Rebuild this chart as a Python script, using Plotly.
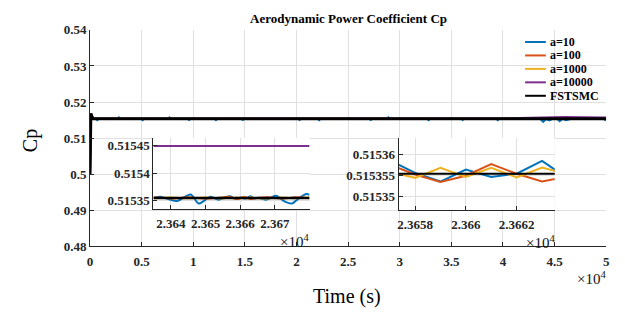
import plotly.graph_objects as go

# ---------------- data ----------------
series_names = ["a=10", "a=100", "a=1000", "a=10000", "FSTSMC"]
series_colors = ["#0072BD", "#D95319", "#EDB120", "#7E2F8E", "#000000"]

# main view (coarse)
t_main = [0, 40, 80, 150, 300, 50000]
cp_common_main = [0.5, 0.5140, 0.5168, 0.5162, 0.5154, 0.515355]

t_main_a10 = [0, 40, 80, 150, 300, 550, 700, 850, 2650, 2800, 2950, 4950, 5100, 5250,
              7550, 7700, 7850, 9450, 9600, 9750, 12050, 12200, 12350, 14650, 14800, 14950,
              20150, 20300, 20450, 22050, 22200, 22350, 27050, 27200, 27350, 28750, 28900, 29050,
              32650, 32800, 32950, 35950, 36100, 36250, 39350, 39500, 39650,
              43600, 43900, 44200, 44500, 44800, 45100, 45500, 45800, 46100, 46650, 47000,
              49750, 49900, 50000]
cp_a10_main = [0.5, 0.5140, 0.5168, 0.5162, 0.5154, 0.515355, 0.51500, 0.515355, 0.515355, 0.51575, 0.515355,
               0.515355, 0.51500, 0.515355, 0.515355, 0.51575, 0.515355, 0.515355, 0.51505, 0.515355,
               0.515355, 0.51500, 0.515355, 0.515355, 0.51505, 0.515355,
               0.515355, 0.51505, 0.515355, 0.515355, 0.51500, 0.515355, 0.515355, 0.51505, 0.515355,
               0.515355, 0.51575, 0.515355, 0.515355, 0.51500, 0.515355, 0.515355, 0.51505, 0.515355,
               0.515355, 0.51500, 0.515355,
               0.515355, 0.51450, 0.515355, 0.51490, 0.515355, 0.51575, 0.51470, 0.515355, 0.51500,
               0.515355, 0.515355, 0.515355, 0.51505, 0.515355]

t_main_a10000 = [0, 40, 80, 150, 300, 40000, 42000, 44000, 46000, 48000, 50000]
cp_a10000_main = [0.5, 0.5140, 0.5168, 0.5162, 0.5154, 0.51545, 0.51565, 0.51580, 0.51585, 0.51580, 0.51575]

# zoomed window (fine)
t_zoom_a10 = [23635, 23637, 23639.4, 23641.7, 23645.7, 23648, 23651.4, 23653.7, 23655.7,
              23657, 23658, 23659, 23660, 23661, 23662, 23663, 23664,
              23665.1, 23667.4, 23670.3, 23672.9, 23674.9, 23677.1, 23679.1, 23680]
cp_a10_zoom = [0.5153549, 0.5153575, 0.5153531, 0.5153497, 0.5153618, 0.5153453, 0.5153575, 0.5153523, 0.5153566,
               0.5153587, 0.5153556, 0.5153535, 0.5153564, 0.5153546, 0.5153554, 0.5153585, 0.5153543,
               0.5153557, 0.5153523, 0.5153592, 0.5153488, 0.5153453, 0.5153557, 0.5153627, 0.5153609]

t_zoom = [23635, 23640, 23645, 23650, 23655, 23657, 23658, 23659, 23660, 23661, 23662, 23663, 23664,
          23668, 23672, 23676, 23680]
cp_a100_zoom = [0.5153565, 0.5153545, 0.5153566, 0.5153543, 0.5153563, 0.5153576, 0.5153552, 0.5153534,
                0.5153549, 0.5153577, 0.5153554, 0.5153535, 0.5153547, 0.5153566, 0.5153542, 0.5153565, 0.5153548]
cp_a1000_zoom = [0.5153548, 0.5153562, 0.5153547, 0.5153563, 0.5153546, 0.5153559, 0.5153544, 0.5153568,
                 0.5153546, 0.5153568, 0.5153545, 0.5153569, 0.5153552, 0.5153546, 0.5153563, 0.5153547, 0.5153562]
cp_a10000_zoom = [0.51545] * len(t_zoom)
cp_fstsmc_zoom = [0.5153554] * len(t_zoom)

# ticks
main_xticks = [0, 5000, 10000, 15000, 20000, 25000, 30000, 35000, 40000, 45000, 50000]
main_xticklabels = ["0", "0.5", "1", "1.5", "2", "2.5", "3", "3.5", "4", "4.5", "5"]
main_yticks = [0.48, 0.49, 0.50, 0.51, 0.52, 0.53, 0.54]
main_yticklabels = ["0.48", "0.49", "0.5", "0.51", "0.52", "0.53", "0.54"]
in1_xticks = [23640, 23650, 23660, 23670]
in1_xticklabels = ["2.364", "2.365", "2.366", "2.367"]
in1_yticks = [0.51535, 0.51540, 0.51545]
in1_yticklabels = ["0.51535", "0.5154", "0.51545"]
in2_xticks = [23658, 23660, 23662]
in2_xticklabels = ["2.3658", "2.366", "2.3662"]
in2_yticks = [0.51535, 0.515355, 0.51536]
in2_yticklabels = ["0.51535", "0.515355", "0.51536"]

# ---------------- figure ----------------
W, H = 625, 324
def px(x):
    return x / W
def py(y):
    return 1 - y / H

def bold(labels):
    return ["<b>%s</b>" % s for s in labels]

SERIF = "Liberation Serif"
AX = "#262626"
GRID = "#e0e0e0"

fig = go.Figure()

main_data = [
    (t_main_a10, cp_a10_main, 2),
    (t_main, cp_common_main, 2),
    (t_main, cp_common_main, 2),
    (t_main_a10000, cp_a10000_main, 2),
    (t_main, cp_common_main, 3),
]
for (tx, ty, lw), name, col in zip(main_data, series_names, series_colors):
    fig.add_trace(go.Scatter(x=tx, y=ty, mode="lines", name=name, showlegend=False,
                             line=dict(color=col, width=lw), xaxis="x", yaxis="y"))

zoom_data = [
    (t_zoom_a10, cp_a10_zoom),
    (t_zoom, cp_a100_zoom),
    (t_zoom, cp_a1000_zoom),
    (t_zoom, cp_a10000_zoom),
    (t_zoom, cp_fstsmc_zoom),
]
for (tx, ty), name, col in zip(zoom_data, series_names, series_colors):
    fig.add_trace(go.Scatter(x=tx, y=ty, mode="lines", name=name, showlegend=False,
                             line=dict(color=col, width=2.5 if col == "#000000" else 2,
                                       shape="spline", smoothing=0.8),
                             xaxis="x2", yaxis="y2"))
for (tx, ty), name, col in zip(zoom_data, series_names, series_colors):
    fig.add_trace(go.Scatter(x=tx, y=ty, mode="lines", name=name, showlegend=False,
                             line=dict(color=col, width=2),
                             xaxis="x3", yaxis="y3"))

tickfont = dict(family=SERIF, size=13, color=AX)
common_ax = dict(showline=True, linecolor=AX, linewidth=1, ticks="inside", ticklen=4,
                 tickcolor=AX, showgrid=True, gridcolor=GRID, gridwidth=1, zeroline=False,
                 tickfont=tickfont, mirror=False)

fig.update_layout(
    width=W, height=H,
    margin=dict(l=0, r=0, t=0, b=0),
    paper_bgcolor="white", plot_bgcolor="white",
    showlegend=False,
    xaxis=dict(domain=[px(88), px(610)], range=[0, 50000], anchor="y", ticklabelstandoff=3,
               tickvals=main_xticks, ticktext=bold(main_xticklabels), **common_ax),
    yaxis=dict(domain=[py(251), py(24)], range=[0.48, 0.54], anchor="x",
               tickvals=main_yticks, ticktext=bold(main_yticklabels), **common_ax),
    xaxis2=dict(domain=[px(152), px(310)], range=[23634.9, 23680], anchor="y2", ticklabelstandoff=2,
                tickvals=in1_xticks, ticktext=bold(in1_xticklabels), **common_ax),
    yaxis2=dict(domain=[py(212), py(137)], range=[0.515335, 0.515465], anchor="x2",
                tickvals=in1_yticks, ticktext=bold(in1_yticklabels), **common_ax),
    xaxis3=dict(domain=[px(400), px(558)], range=[23657.35, 23663.5], anchor="y3", ticklabelstandoff=2,
                tickvals=in2_xticks, ticktext=bold(in2_xticklabels), **common_ax),
    yaxis3=dict(domain=[py(213), py(137)], range=[0.5153466, 0.5153641], anchor="x3",
                tickvals=in2_yticks, ticktext=bold(in2_yticklabels), **common_ax),
)

annotations = [
    dict(text="<b>Aerodynamic Power Coefficient Cp</b>", x=px(349), y=py(12),
         font=dict(family=SERIF, size=13, color="#000000")),
    dict(text="Time (s)", x=px(348), y=py(304), font=dict(family=SERIF, size=20, color="#000000")),
    dict(text="Cp", x=px(28), y=py(140), textangle=-90, font=dict(family=SERIF, size=20, color="#000000")),
    dict(text="×10<sup>4</sup>", x=px(612), y=py(284), xanchor="right",
         font=dict(family=SERIF, size=15, color="#111111")),
    dict(text="×10<sup>4</sup>", x=px(311), y=py(245), xanchor="right",
         font=dict(family=SERIF, size=15, color="#111111")),
    dict(text="×10<sup>4</sup>", x=px(560), y=py(246), xanchor="right",
         font=dict(family=SERIF, size=15, color="#111111")),
]
for a in annotations:
    a.setdefault("xanchor", "center")
    a.update(xref="paper", yref="paper", yanchor="middle", showarrow=False)

shapes = []
leg_y = [36.7, 50.8, 64.9, 79.0, 93.1]
for yy, name, col in zip(leg_y, series_names, series_colors):
    shapes.append(dict(type="line", xref="paper", yref="paper", x0=px(528), x1=px(549),
                       y0=py(yy), y1=py(yy), line=dict(color=col, width=2)))
    annotations.append(dict(text="<b>%s</b>" % name, x=px(551), y=py(yy), xref="paper", yref="paper",
                            xanchor="left", yanchor="middle", showarrow=False,
                            font=dict(family=SERIF, size=12, color="#000000")))

fig.update_layout(annotations=annotations, shapes=shapes)
fig.write_html("out.html")
